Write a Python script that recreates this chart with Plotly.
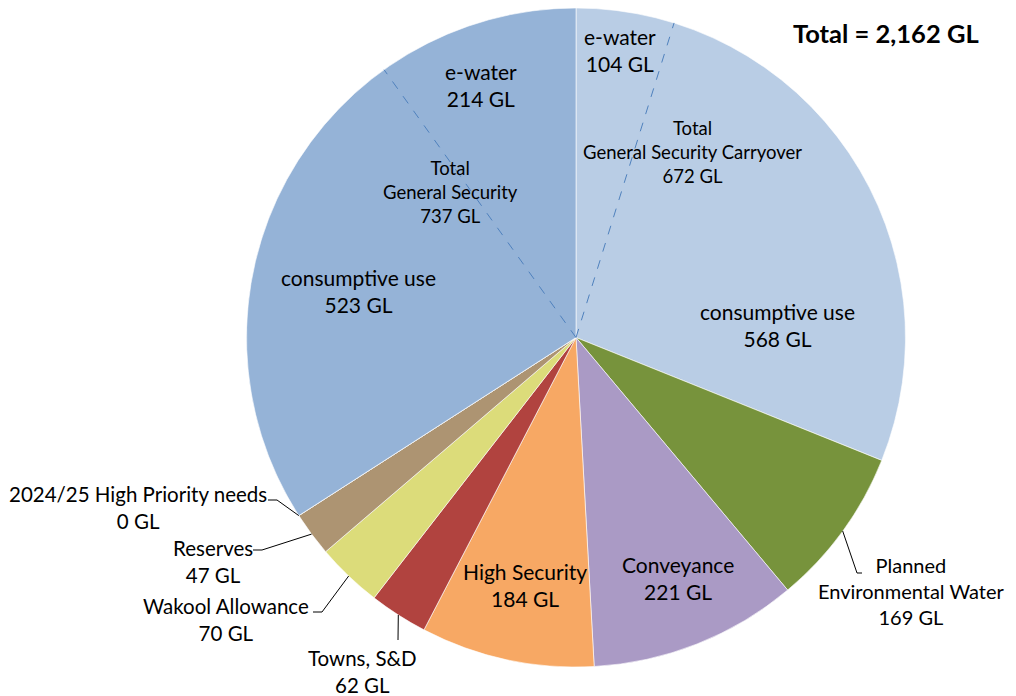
import math
import plotly.graph_objects as go

# ---------------- data ----------------
categories = ["General Security Carryover", "Planned Environmental Water", "Conveyance",
              "High Security", "Towns, S&D", "Wakool Allowance", "Reserves",
              "2024/25 High Priority needs", "General Security"]
carryover_parts = [104, 568]          # e-water, consumptive use
general_security_parts = [523, 214]   # consumptive use, e-water
other_values = [169, 221, 184, 62, 70, 47, 0]
values = [sum(carryover_parts)] + other_values + [sum(general_security_parts)]
colors = ["#B9CDE5", "#77933C", "#AA9AC5", "#F7A864", "#B1433F",
          "#DCDC7A", "#AD9472", "#AD9472", "#95B3D7"]
total = sum(values)

# ---------------- geometry (screen pixels) ----------------
W, H = 1016, 696
OFF = 8  # page body margin
CX, CY, R = 576, 337.5, 329.5
FONT = "Lato"

def px(x):
    return (x - OFF) / W

def py(y):
    return 1 - (y - OFF) / H

def edge(cum):
    a = 2 * math.pi * cum / total
    return CX + R * math.sin(a), CY - R * math.cos(a)

fig = go.Figure(go.Pie(
    values=values, labels=categories, sort=False, direction="clockwise", rotation=0,
    marker=dict(colors=colors, line=dict(color="white", width=0.6)),
    textinfo="none", hoverinfo="label+value",
    domain=dict(x=[px(CX - R), px(CX + R)],
                y=[max(0.0, py(CY + R)), min(1.0, py(CY - R))]),
    showlegend=False,
))

shapes = []
# dashed sub-division lines
for cum in [carryover_parts[0], total - general_security_parts[1]]:
    ex, ey = edge(cum)
    shapes.append(dict(type="line", xref="paper", yref="paper",
                       x0=px(CX), y0=py(CY), x1=px(ex), y1=py(ey),
                       line=dict(color="#4F81BD", width=1, dash="dash")))

# leader lines
cums = [0]
for v in values:
    cums.append(cums[-1] + v)
leaders = {
    7: [(268, 500), (277, 500)],
    6: [(253, 550), (262, 550)],
    5: [(313, 612), (322, 612)],
    4: [(398, 640)],
    1: [(862, 573), (857, 573)],
}
for idx, pts in leaders.items():
    mid = (cums[idx] + cums[idx + 1]) / 2
    ex, ey = edge(mid)
    allpts = pts + [(ex, ey)]
    path = "M " + " L ".join(f"{px(x)},{py(y)}" for x, y in allpts)
    shapes.append(dict(type="path", xref="paper", yref="paper", path=path,
                       line=dict(color="black", width=1)))

ann = []
def label(text, x, y, size=21, xanchor="center"):
    ann.append(dict(text=text, x=px(x), y=py(y), xref="paper", yref="paper",
                    xanchor=xanchor, yanchor="middle", showarrow=False,
                    font=dict(family=FONT, size=size, color="black")))

OUT = 20.5
label(f"e-water<br>{carryover_parts[0]} GL", 620, 50)
label(f"Total<br>{categories[0]}<br>{values[0]} GL", 692, 152, size=18.5)
label(f"consumptive use<br>{carryover_parts[1]} GL", 777, 325)
label(f"Planned<br>Environmental Water<br>{values[1]} GL", 911, 591, size=20)
label(f"{categories[2]}<br>{values[2]} GL", 678, 578)
label(f"{categories[3]}<br>{values[3]} GL", 525, 585)
label(f"{categories[4]}<br>{values[4]} GL", 362, 671, size=OUT)
label(f"{categories[5]}<br>{values[5]} GL", 226, 619, size=OUT)
label(f"{categories[6]}<br>{values[6]} GL", 213, 561, size=OUT)
label(f"{categories[7]}<br>{values[7]} GL", 138, 507, size=OUT)
label(f"consumptive use<br>{general_security_parts[0]} GL", 358, 291)
label(f"Total<br>{categories[8]}<br>{values[8]} GL", 450, 192, size=18.5)
label(f"e-water<br>{general_security_parts[1]} GL", 481, 85)
ann.append(dict(text=f"<b>Total = {total:,} GL</b>", x=px(981), y=py(33),
                xref="paper", yref="paper", xanchor="right", yanchor="middle",
                showarrow=False, font=dict(family=FONT, size=25.5, color="black")))

fig.update_layout(width=W, height=H, margin=dict(l=0, r=0, t=0, b=0),
                  paper_bgcolor="white", plot_bgcolor="white",
                  shapes=shapes, annotations=ann)
fig.write_html("out.html")
